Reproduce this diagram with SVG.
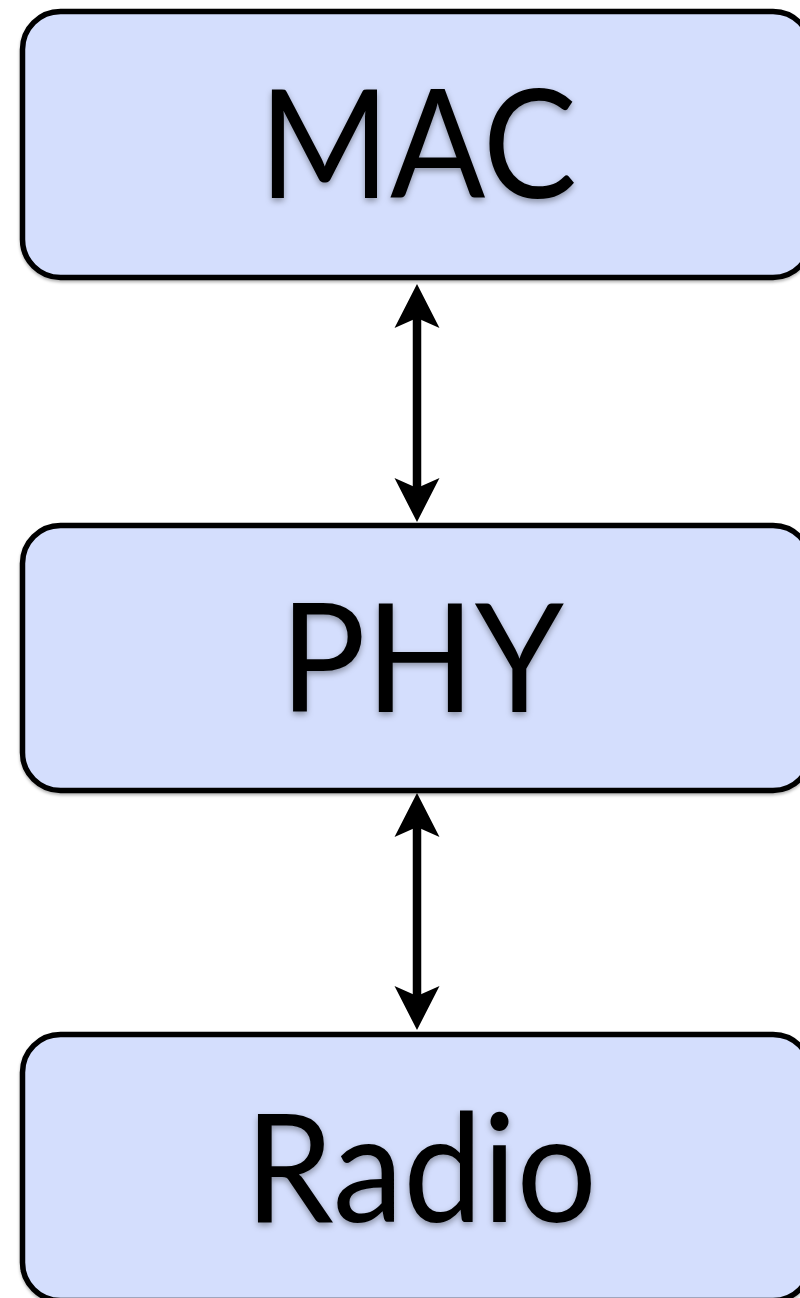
<svg xmlns="http://www.w3.org/2000/svg" width="800" height="1298" viewBox="0 0 800 1298">
  <defs>
    <style>
      .box { fill: #d4defd; stroke: #000; stroke-width: 5.5; }
      .label { font-family: Lato, "Open Sans", "Liberation Sans", sans-serif; font-size: 151px; fill: #000; text-anchor: middle; }
      .conn { stroke: #000; stroke-width: 8.5; fill: none; }
    </style>
    <filter id="tshadow" x="-10%" y="-10%" width="120%" height="130%">
      <feDropShadow dx="0" dy="3" stdDeviation="3" flood-color="#000" flood-opacity="0.35"/>
    </filter>
    <filter id="bshadow" x="-5%" y="-5%" width="110%" height="115%">
      <feDropShadow dx="0" dy="2" stdDeviation="1.5" flood-color="#000" flood-opacity="0.3"/>
    </filter>
    <marker id="head" viewBox="0 -23 44 46" refX="10" refY="0" markerWidth="44" markerHeight="46" markerUnits="userSpaceOnUse" orient="auto-start-reverse">
      <path d="M44,0 L0,-22.5 L10,0 L0,22.5 Z" fill="#000"/>
    </marker>
  </defs>

  <g id="connectors">
    <path class="conn" d="M417,318 L417,488" marker-start="url(#head)" marker-end="url(#head)"/>
    <path class="conn" d="M417,827 L417,996" marker-start="url(#head)" marker-end="url(#head)"/>
  </g>

  <g id="mac">
    <rect class="box" x="22.5" y="11.5" width="788.5" height="266" rx="38" ry="38" filter="url(#bshadow)"/>
    <text class="label" x="418" y="198" textLength="318" lengthAdjust="spacingAndGlyphs" filter="url(#tshadow)">MAC</text>
  </g>

  <g id="phy">
    <rect class="box" x="22.5" y="525.5" width="788.5" height="265" rx="38" ry="38" filter="url(#bshadow)"/>
    <text class="label" x="422" y="712" textLength="284" lengthAdjust="spacingAndGlyphs" filter="url(#tshadow)">PHY</text>
  </g>

  <g id="radio">
    <rect class="box" x="22.5" y="1034.5" width="788.5" height="266" rx="38" ry="38" filter="url(#bshadow)"/>
    <text class="label" x="421" y="1222" textLength="352" lengthAdjust="spacingAndGlyphs" filter="url(#tshadow)">Radio</text>
  </g>
</svg>
